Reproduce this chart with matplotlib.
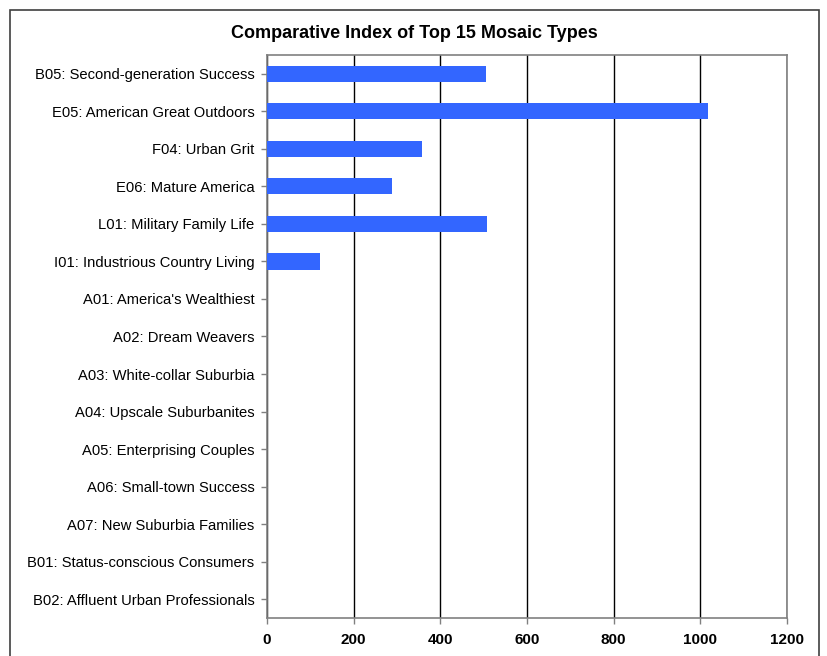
import matplotlib.pyplot as plt
from matplotlib.patches import Rectangle

plt.rcParams['font.family'] = ['Liberation Sans', 'DejaVu Sans']

categories = ["B05: Second-generation Success", "E05: American Great Outdoors",
              "F04: Urban Grit", "E06: Mature America", "L01: Military Family Life",
              "I01: Industrious Country Living", "A01: America's Wealthiest",
              "A02: Dream Weavers", "A03: White-collar Suburbia",
              "A04: Upscale Suburbanites", "A05: Enterprising Couples",
              "A06: Small-town Success", "A07: New Suburbia Families",
              "B01: Status-conscious Consumers", "B02: Affluent Urban Professionals"]
values = [505, 1018, 358, 288, 508, 122, 0, 0, 0, 0, 0, 0, 0, 0, 0]
xticks = [0, 200, 400, 600, 800, 1000, 1200]

fig = plt.figure(figsize=(8.27, 6.56), dpi=100)
ax = fig.add_axes([267/827, 1 - 618/656, 520/827, 563/656])

pos = list(range(len(categories)))
ax.barh(pos, values, height=0.43, color="#3366FF", zorder=3)
ax.set_ylim(len(categories) - 0.5, -0.5)
ax.set_xlim(0, 1200)
ax.set_yticks(pos)
ax.set_yticklabels(categories, fontsize=10.6)
ax.set_xticks(xticks)
ax.set_xticklabels([str(t) for t in xticks], fontsize=11, fontweight="bold")
ax.xaxis.grid(True, color="black", linewidth=1, zorder=1)
for s in ax.spines.values():
    s.set_color("#808080")
    s.set_linewidth(1.2)
ax.tick_params(axis="both", color="#808080", length=4, width=1)
ax.tick_params(axis="x", pad=7)
ax.tick_params(axis="y", pad=5)

fig.text(414/827, 1 - 33/656, "Comparative Index of Top 15 Mosaic Types",
         ha="center", va="center", fontsize=13, fontweight="bold")

# outer frame
fig.patches.append(Rectangle((10/827, -0.05), 809/827, 1 - 10/656 + 0.05,
                             transform=fig.transFigure, fill=False,
                             edgecolor="#404040", linewidth=1.2))

fig.savefig("out.png", dpi=100)
